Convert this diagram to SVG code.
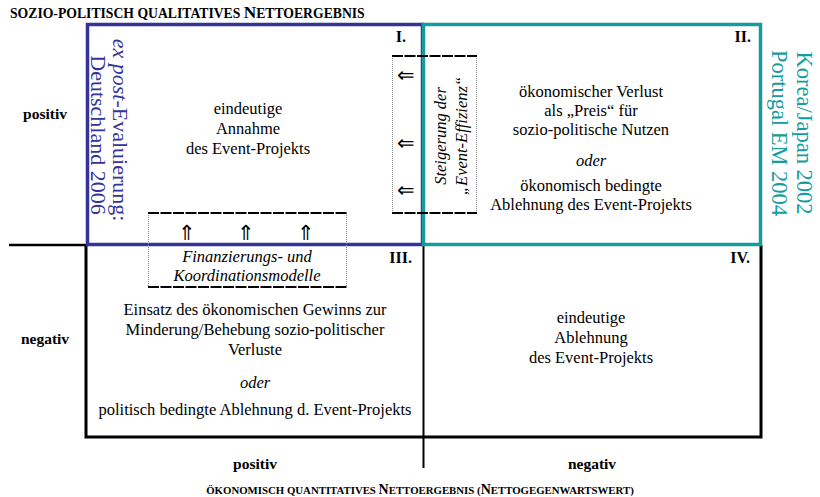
<svg xmlns="http://www.w3.org/2000/svg" width="820" height="497" viewBox="0 0 820 497">
<style>
text{font-family:"Liberation Serif","Times New Roman",serif;fill:#000}
.t{font-size:16.5px;text-anchor:middle}
.b{font-weight:bold}
.i{font-style:italic}
.num{font-weight:bold;font-size:16px;text-anchor:end}
.lab{font-weight:bold;font-size:15.5px;text-anchor:middle}
.sc{font-weight:bold}
.blue{fill:#333399;font-size:22px;text-anchor:middle}
.teal{fill:#169c9c;font-size:22.5px;text-anchor:middle}
.dash{stroke:#000;stroke-width:2;stroke-dasharray:11 1.5;fill:none}
.dot{stroke:#888;stroke-width:1;stroke-dasharray:1 1;fill:none}
.arr{font-family:"DejaVu Sans",sans-serif;font-size:21px;text-anchor:middle;font-weight:200}
</style>
<rect width="820" height="497" fill="#fff"/>
<g id="axes">
<line x1="9" y1="245" x2="86" y2="245" stroke="#000" stroke-width="2.5"/>
<polyline points="86,245 86,437 761,437 761,245" fill="none" stroke="#000" stroke-width="3"/>
<line x1="423.5" y1="245" x2="423.5" y2="468" stroke="#000" stroke-width="2"/>
</g>
<g id="quadrant-I">
<rect x="87.5" y="24.5" width="335" height="220" fill="none" stroke="#333399" stroke-width="3.5"/>
<text class="num" x="406" y="42">I.</text>
<text class="t" x="248" y="114">eindeutige</text>
<text class="t" x="248" y="134">Annahme</text>
<text class="t" x="248" y="154">des Event-Projekts</text>
</g>
<g id="quadrant-II">
<rect x="423.5" y="24.5" width="337" height="220" fill="none" stroke="#169c9c" stroke-width="3.5"/>
<text class="num" x="751" y="42">II.</text>
<text class="t" x="591" y="97">ökonomischer Verlust</text>
<text class="t" x="591" y="116">als „Preis“ für</text>
<text class="t" x="591" y="135">sozio-politische Nutzen</text>
<text class="t i" x="591" y="166">oder</text>
<text class="t" x="591" y="191">ökonomisch bedingte</text>
<text class="t" x="591" y="210">Ablehnung des Event-Projekts</text>
</g>
<g id="quadrant-III">
<text class="num" x="412" y="263">III.</text>
<text class="t" x="255" y="315">Einsatz des ökonomischen Gewinns zur</text>
<text class="t" x="255" y="335">Minderung/Behebung sozio-politischer</text>
<text class="t" x="255" y="355">Verluste</text>
<text class="t i" x="255" y="388">oder</text>
<text class="t" x="255" y="415">politisch bedingte Ablehnung d. Event-Projekts</text>
</g>
<g id="quadrant-IV">
<text class="num" x="750" y="263">IV.</text>
<text class="t" x="591" y="323">eindeutige</text>
<text class="t" x="591" y="343">Ablehnung</text>
<text class="t" x="591" y="363">des Event-Projekts</text>
</g>
<g id="label-germany">
<text class="blue" transform="translate(113,130) rotate(90)"><tspan class="i">ex post</tspan>-Evaluierung:</text>
<text class="blue" transform="translate(91,135) rotate(90)">Deutschland 2006</text>
</g>
<g id="label-korea-portugal">
<text class="teal" transform="translate(797,133) rotate(90)">Korea/Japan 2002</text>
<text class="teal" transform="translate(772,133) rotate(90)">Portugal EM 2004</text>
</g>
<g id="box-effizienz">
<line class="dot" x1="392.5" y1="56" x2="392.5" y2="213"/>
<line class="dot" x1="476.5" y1="56" x2="476.5" y2="213"/>
<line class="dash" x1="392" y1="56" x2="477" y2="56"/>
<line class="dash" x1="392" y1="213" x2="477" y2="213"/>
<text class="arr" x="406" y="82">⇐</text>
<text class="arr" x="406" y="150">⇐</text>
<text class="arr" x="406" y="197">⇐</text>
<text class="t i" font-size="16" transform="translate(446,136) rotate(-90)">Steigerung der</text>
<text class="t i" font-size="16" transform="translate(467,136) rotate(-90)">„Event-Effizienz“</text>
</g>
<g id="box-finanzierung">
<line class="dot" x1="148.5" y1="213" x2="148.5" y2="287"/>
<line class="dot" x1="346.5" y1="213" x2="346.5" y2="287"/>
<line class="dash" x1="148" y1="213" x2="347" y2="213"/>
<line class="dash" x1="148" y1="287" x2="347" y2="287"/>
<text class="arr" x="187" y="240">⇑</text>
<text class="arr" x="246" y="240">⇑</text>
<text class="arr" x="306" y="240">⇑</text>
<text class="t i" x="247" y="262">Finanzierungs- und</text>
<text class="t i" x="247" y="281">Koordinationsmodelle</text>
</g>
<g id="axis-labels">
<text class="sc" x="10" y="18" font-size="13.7">SOZIO-POLITISCH QUALITATIVES <tspan font-size="17.2">N</tspan>ETTOERGEBNIS</text>
<text class="lab" x="45" y="119">positiv</text>
<text class="lab" x="45" y="344">negativ</text>
<text class="lab" x="255" y="469">positiv</text>
<text class="lab" x="592" y="469">negativ</text>
<text class="sc" x="420" y="494" font-size="10.8" text-anchor="middle">ÖKONOMISCH QUANTITATIVES <tspan font-size="14">N</tspan>ETTOERGEBNIS (<tspan font-size="14">N</tspan>ETTOGEGENWARTSWERT)</text>
</g>
</svg>
